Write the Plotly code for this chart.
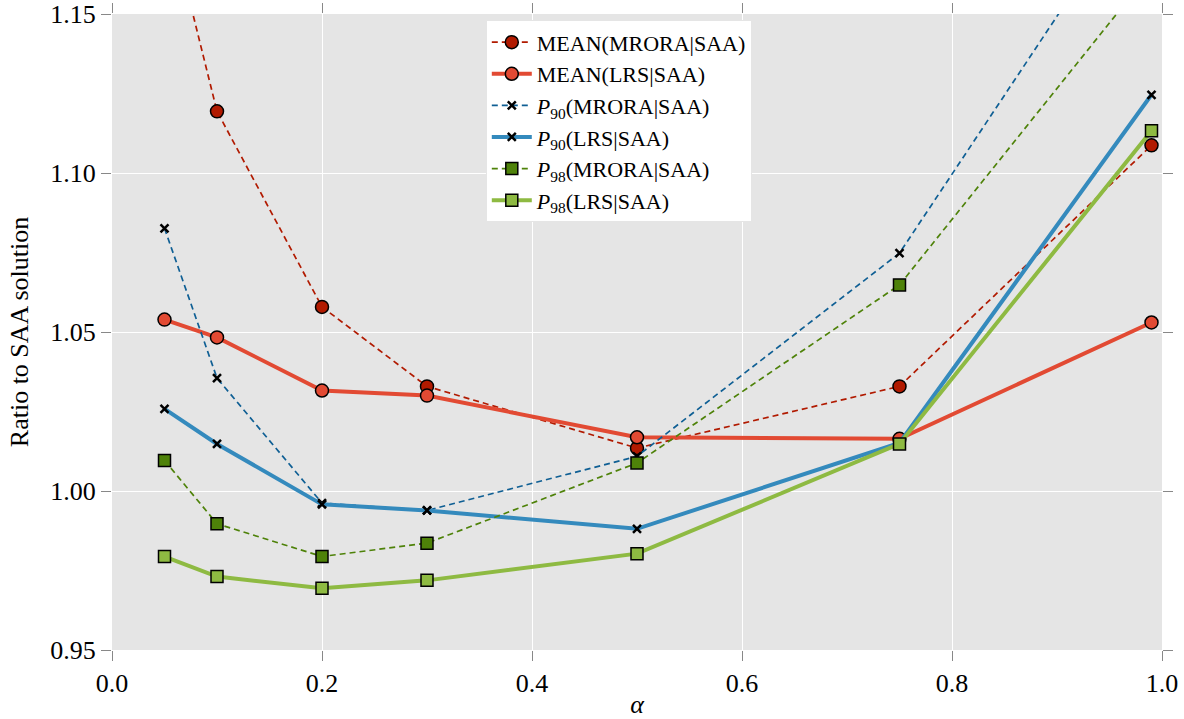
import plotly.graph_objects as go

alpha = [0.05, 0.1, 0.2, 0.3, 0.5, 0.75, 0.99]
mean_mrora = [1.186, 1.1194, 1.0579, 1.0329, 1.0135, 1.0329, 1.1087]
mean_lrs = [1.0539, 1.0483, 1.0316, 1.0300, 1.0169, 1.0164, 1.0530]
p90_mrora = [1.0826, 1.0355, 0.9962, 0.9939, 1.0109, 1.0748, 1.194]
p90_lrs = [1.0258, 1.0148, 0.9958, 0.9939, 0.9881, 1.0151, 1.1246]
p98_mrora = [1.0096, 0.9897, 0.9794, 0.9836, 1.0088, 1.0648, 1.1637]
p98_lrs = [0.9794, 0.9731, 0.9694, 0.9719, 0.9803, 1.0148, 1.1133]

names = ["MEAN(MRORA|SAA)", "MEAN(LRS|SAA)",
         "<i>P</i><sub>90</sub>(MRORA|SAA)", "<i>P</i><sub>90</sub>(LRS|SAA)",
         "<i>P</i><sub>98</sub>(MRORA|SAA)", "<i>P</i><sub>98</sub>(LRS|SAA)"]

SERIF = "Liberation Serif"

fig = go.Figure()

def add(y, name, color, dash, width, symbol, mcolor, msize, lw=1.5):
    fig.add_trace(go.Scatter(
        x=alpha, y=y, name=name, mode="lines+markers",
        line=dict(color=color, dash=dash, width=width),
        marker=dict(symbol=symbol, color=mcolor, size=msize,
                    line=dict(color="black", width=lw)),
    ))

add(mean_mrora, names[0], "#B11A00", "6px,4px", 1.7, "circle", "#B11A00", 13)
add(mean_lrs, names[1], "#E24A33", "solid", 4, "circle", "#E24A33", 13)
add(p90_mrora, names[2], "#0F5F94", "6px,4px", 1.7, "x-thin", "black", 8, 2.5)
add(p90_lrs, names[3], "#348ABD", "solid", 4, "x-thin", "black", 8, 2.5)
add(p98_mrora, names[4], "#4E8209", "6px,4px", 1.7, "square", "#4E8209", 12)
add(p98_lrs, names[5], "#8EBA42", "solid", 4, "square", "#8EBA42", 12)

fig.update_layout(
    width=1184, height=719,
    margin=dict(l=112, r=22, t=14, b=69, autoexpand=False),
    paper_bgcolor="white",
    plot_bgcolor="#E5E5E5",
    font=dict(family=SERIF, size=24, color="black"),
    legend=dict(x=0.356, y=0.99, xanchor="left", yanchor="top",
                bgcolor="white", bordercolor="#E5E5E5", borderwidth=1,
                font=dict(size=22, family=SERIF), tracegroupgap=0, itemwidth=40),
    showlegend=True,
)
fig.update_xaxes(range=[0, 1], dtick=0.2, tick0=0, tickformat=".1f",
                 tickfont=dict(family=SERIF, size=26, color="black"),
                 showgrid=True, gridcolor="white", gridwidth=1.2, automargin=False,
                 zeroline=False, ticks="outside", ticklen=10, tickcolor="#888888",
                 mirror="ticks", showline=False,
                 title=dict(text="<i>α</i>", standoff=0, font=dict(family=SERIF, size=26)))
fig.update_yaxes(range=[0.95, 1.15], dtick=0.05, tick0=0.95, tickformat=".2f",
                 tickfont=dict(family=SERIF, size=26, color="black"),
                 showgrid=True, gridcolor="white", gridwidth=1.2, automargin=False,
                 zeroline=False, ticks="outside", ticklen=10, tickcolor="#888888",
                 mirror="ticks", showline=False,
                 title=dict(text="Ratio to SAA solution", standoff=14, font=dict(family=SERIF, size=26)))

fig.write_html("out.html")
